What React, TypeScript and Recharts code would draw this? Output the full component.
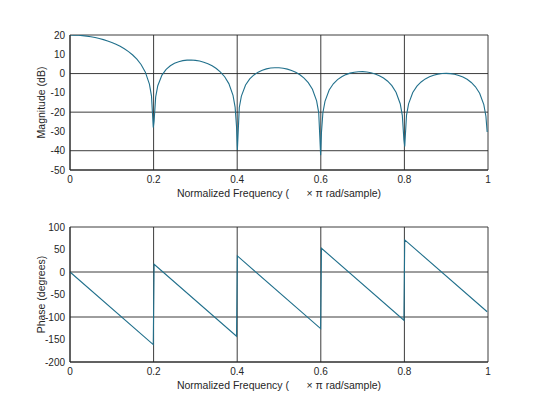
import { LineChart, Line, XAxis, YAxis, CartesianGrid } from 'recharts'

// frequency (x pi rad/sample) and magnitude (dB)
const magFreq = [
    0, 0.01, 0.02, 0.03, 0.04, 0.05, 0.06, 0.07, 0.08, 0.09,
    0.1, 0.11, 0.12, 0.13, 0.14, 0.15, 0.16, 0.17, 0.18, 0.19,
    0.195, 0.1992, 0.2012, 0.205,
    0.21, 0.22, 0.23, 0.24, 0.25, 0.26, 0.27, 0.28, 0.29,
    0.3, 0.31, 0.32, 0.33, 0.34, 0.35, 0.36, 0.37, 0.38, 0.39,
    0.395, 0.3984, 0.4004, 0.405,
    0.41, 0.42, 0.43, 0.44, 0.45, 0.46, 0.47, 0.48, 0.49,
    0.5, 0.51, 0.52, 0.53, 0.54, 0.55, 0.56, 0.57, 0.58, 0.59,
    0.595, 0.5996, 0.6016, 0.605,
    0.61, 0.62, 0.63, 0.64, 0.65, 0.66, 0.67, 0.68, 0.69,
    0.7, 0.71, 0.72, 0.73, 0.74, 0.75, 0.76, 0.77, 0.78, 0.79,
    0.795, 0.7988, 0.8008, 0.805,
    0.81, 0.82, 0.83, 0.84, 0.85, 0.86, 0.87, 0.88, 0.89,
    0.9, 0.91, 0.92, 0.93, 0.94, 0.95, 0.96, 0.97, 0.98, 0.99,
    0.995, 0.998,
]
const magDb = [
    20, 19.96, 19.86, 19.68, 19.43, 19.1, 18.69, 18.19, 17.6, 16.91,
    16.11, 15.19, 14.11, 12.86, 11.38, 9.63, 7.47, 4.71, 0.89, -5.48,
    -11.69, -28.0, -24.55, -12.11,
    -6.32, -0.8, 2.17, 4.06, 5.33, 6.18, 6.71, 6.98, 7.02,
    6.86, 6.49, 5.91, 5.1, 4.02, 2.63, 0.8, -1.65, -5.2, -11.31,
    -17.4, -27.56, -39.6, -17.58,
    -11.68, -5.95, -2.78, -0.7, 0.74, 1.75, 2.44, 2.86, 3.04,
    3.01, 2.77, 2.31, 1.62, 0.66, -0.63, -2.35, -4.71, -8.15, -14.17,
    -20.22, -42.4, -30.38, -20.31,
    -14.37, -8.55, -5.3, -3.15, -1.63, -0.54, 0.22, 0.71, 0.97,
    1.0, 0.83, 0.43, -0.2, -1.1, -2.32, -3.98, -6.28, -9.67, -15.63,
    -21.65, -34.26, -37.8, -21.69,
    -15.72, -9.85, -6.55, -4.34, -2.77, -1.63, -0.82, -0.28, 0.02,
    0.11, -0.02, -0.37, -0.95, -1.8, -2.98, -4.6, -6.85, -10.2, -16.11,
    -22.11, -30.3,
]

// phase (degrees), corner points of the sawtooth
const phaseFreq = [0, 0.1992, 0.2012, 0.3984, 0.4004, 0.5996, 0.6016, 0.7988, 0.8008, 0.998]
const phaseDeg = [0, -161.4, 17.1, -142.7, 35.7, -125.7, 52.7, -107.1, 71.4, -88.4]

const freqTicks = [0, 0.2, 0.4, 0.6, 0.8, 1]
const magTicks = [-50, -40, -30, -20, -10, 0, 10, 20]
const phaseTicks = [-200, -150, -100, -50, 0, 50, 100]

const xLabel = 'Normalized Frequency (\u00a0\u00a0\u00a0\u00a0\u00a0\u00a0\u00d7\u00a0\u03c0 rad/sample)'

const magData = magFreq.map((f, i) => ({ f, v: magDb[i] }))
const phaseData = phaseFreq.map((f, i) => ({ f, v: phaseDeg[i] }))

const FONT = '"Liberation Sans", Arial, sans-serif'
const INK = '#262626'
const LINE = '#21708c'
const tickStyle = { fill: INK, fontSize: 10, fontFamily: FONT }

type PanelProps = {
    data: { f: number; v: number }[]
    ticks: number[]
    domain: [number, number]
    yLabel: string
    top: number
    marginTop: number
}

function Panel({ data, ticks, domain, yLabel, top, marginTop }: PanelProps) {
    return (
        <div style={{ position: 'absolute', left: 0, top }}>
            <LineChart
                width={540}
                height={marginTop + 135 + 34}
                data={data}
                margin={{ top: marginTop, right: 52, left: 0, bottom: 4 }}
            >
                <CartesianGrid stroke={INK} strokeWidth={0.9} />
                <XAxis
                    dataKey='f'
                    type='number'
                    domain={[0, 1]}
                    ticks={freqTicks}
                    height={30}
                    stroke={INK}
                    tickLine={false}
                    tickSize={3}
                    tickMargin={3}
                    tick={tickStyle}
                    label={{
                        value: xLabel,
                        position: 'insideBottom',
                        offset: 3,
                        fill: INK,
                        fontSize: 10.5,
                        fontFamily: FONT,
                    }}
                />
                <YAxis
                    type='number'
                    domain={domain}
                    ticks={ticks}
                    width={70}
                    stroke={INK}
                    tickLine={false}
                    tickSize={3}
                    tickMargin={2}
                    tick={tickStyle}
                    allowDataOverflow
                    label={{
                        value: yLabel,
                        angle: -90,
                        position: 'center',
                        dx: 6,
                        fill: INK,
                        fontSize: 10.5,
                        fontFamily: FONT,
                    }}
                />
                <Line
                    type='linear'
                    dataKey='v'
                    stroke={LINE}
                    strokeWidth={1.1}
                    dot={false}
                    isAnimationActive={false}
                />
            </LineChart>
        </div>
    )
}

export default function App() {
    return (
        <div style={{ position: 'absolute', left: 0, top: 0, width: 540, height: 404, background: '#fff' }}>
            <Panel data={magData} ticks={magTicks} domain={[-50, 20]} yLabel='Magnitude (dB)' top={0} marginTop={35} />
            <Panel data={phaseData} ticks={phaseTicks} domain={[-200, 100]} yLabel='Phase (degrees)' top={200} marginTop={27} />
        </div>
    )
}
